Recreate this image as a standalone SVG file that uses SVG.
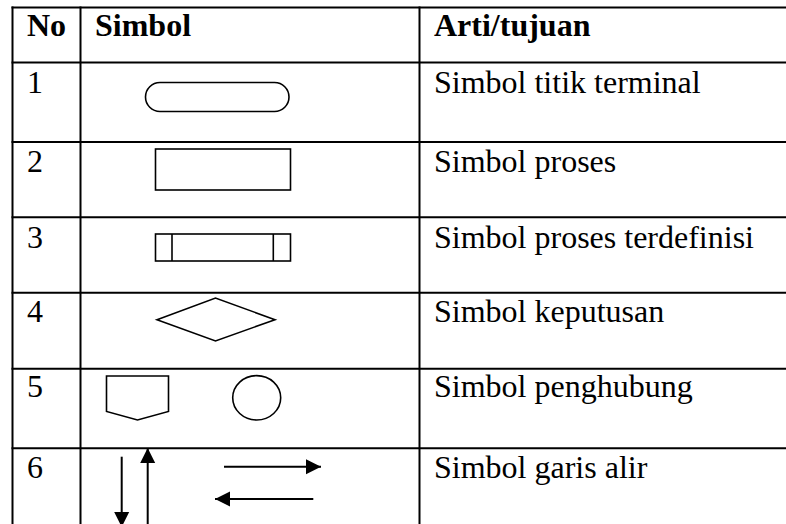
<svg xmlns="http://www.w3.org/2000/svg" width="786" height="524" viewBox="0 0 786 524">
  <style>
    .grid { stroke: #000; stroke-width: 2; fill: none; }
    .shape { stroke: #000; stroke-width: 1.6; fill: #fff; }
    .arrow { stroke: #000; stroke-width: 2; fill: none; }
    .t { font-family: "Liberation Serif", "Times New Roman", serif; font-size: 32px; fill: #000; }
    .b { font-weight: bold; }
  </style>
  <defs>
    <marker id="ah" markerUnits="userSpaceOnUse" markerWidth="16" markerHeight="16" refX="15" refY="8" orient="auto" viewBox="0 0 16 16">
      <path d="M0,0.5 L15,8 L0,15.5 Z" fill="#000"/>
    </marker>
  </defs>
  <rect width="786" height="524" fill="#fff"/>

  <g id="table-grid" class="grid">
    <line x1="11.5" y1="7.5" x2="786" y2="7.5"/>
    <line x1="11.5" y1="62.5" x2="786" y2="62.5"/>
    <line x1="11.5" y1="142" x2="786" y2="142"/>
    <line x1="11.5" y1="217.3" x2="786" y2="217.3"/>
    <line x1="11.5" y1="292.7" x2="786" y2="292.7"/>
    <line x1="11.5" y1="368.7" x2="786" y2="368.7"/>
    <line x1="11.5" y1="448.3" x2="786" y2="448.3"/>
    <line x1="12.5" y1="6.5" x2="12.5" y2="524"/>
    <line x1="80.5" y1="6.5" x2="80.5" y2="524"/>
    <line x1="419.5" y1="6.5" x2="419.5" y2="524"/>
  </g>

  <g id="header">
    <text class="t b" x="27" y="36">No</text>
    <text class="t b" x="95" y="36">Simbol</text>
    <text class="t b" x="434" y="36">Arti/tujuan</text>
  </g>

  <g id="row1">
    <text class="t" x="27" y="93">1</text>
    <rect class="shape" x="145.5" y="82.5" width="143.5" height="29" rx="14.5" ry="14.5"/>
    <text class="t" x="434" y="93">Simbol titik terminal</text>
  </g>

  <g id="row2">
    <text class="t" x="27" y="172">2</text>
    <rect class="shape" x="155.5" y="149" width="135" height="41"/>
    <text class="t" x="434" y="172">Simbol proses</text>
  </g>

  <g id="row3">
    <text class="t" x="27" y="248">3</text>
    <rect class="shape" x="155.5" y="234" width="135" height="27"/>
    <line class="shape" x1="172" y1="234" x2="172" y2="261"/>
    <line class="shape" x1="273.3" y1="234" x2="273.3" y2="261"/>
    <text class="t" x="434" y="248">Simbol proses terdefinisi</text>
  </g>

  <g id="row4">
    <text class="t" x="27" y="322">4</text>
    <polygon class="shape" points="157,319.7 215.5,298 275,319.7 215.5,341"/>
    <text class="t" x="434" y="322">Simbol keputusan</text>
  </g>

  <g id="row5">
    <text class="t" x="27" y="397">5</text>
    <path class="shape" d="M106.5,376 L168.5,376 L168.5,411.5 L137.5,420 L106.5,411.5 Z"/>
    <ellipse class="shape" cx="256.7" cy="397.8" rx="24" ry="22.2"/>
    <text class="t" x="434" y="397">Simbol penghubung</text>
  </g>

  <g id="row6">
    <text class="t" x="27" y="478">6</text>
    <text class="t" x="434" y="478">Simbol garis alir</text>
    <g id="connectors">
      <line class="arrow" x1="121.7" y1="456.7" x2="121.7" y2="527" marker-end="url(#ah)"/>
      <line class="arrow" x1="147.7" y1="530" x2="147.7" y2="448" marker-end="url(#ah)"/>
      <line class="arrow" x1="224" y1="466.7" x2="321" y2="466.7" marker-end="url(#ah)"/>
      <line class="arrow" x1="313.3" y1="499" x2="215" y2="499" marker-end="url(#ah)"/>
    </g>
  </g>
</svg>
